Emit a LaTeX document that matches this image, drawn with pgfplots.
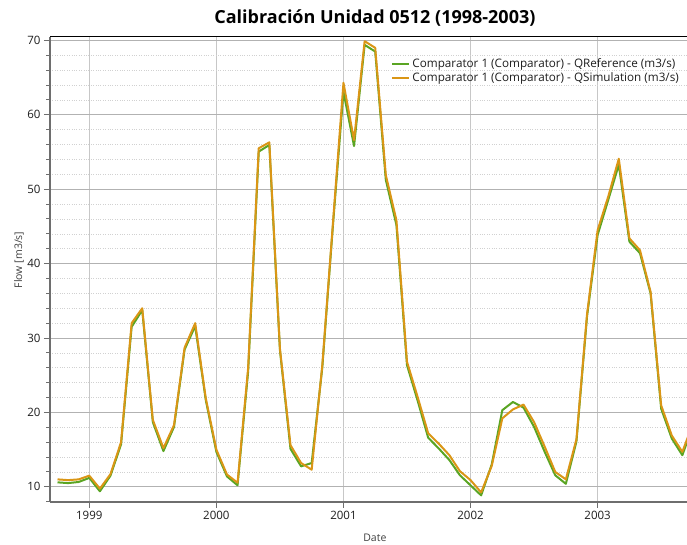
\documentclass[border=0pt]{standalone}
\usepackage{fontspec}
\setmainfont{Open Sans}
\usepackage{pgfplots}
\pgfplotsset{compat=1.18}
\definecolor{qref}{RGB}{90,165,35}
\definecolor{qsim}{RGB}{218,150,22}
\definecolor{axgray}{RGB}{110,110,110}
\definecolor{txt}{RGB}{30,30,30}
\begin{document}
\begin{tikzpicture}[x=1pt,y=1pt]
\useasboundingbox (0,0) rectangle (687,545);
\begin{axis}[
  at={(50pt,43.3pt)}, anchor=south west,
  scale only axis, width=637pt, height=465pt,
  xmin=-3.71, xmax=56.44, ymin=8, ymax=70.5,
  xtick={0,12,24,36,48}, xticklabels={1999,2000,2001,2002,2003},
  ytick={10,20,30,40,50,60,70},
  minor ytick={8,12,14,16,18,22,24,26,28,32,34,36,38,42,44,46,48,52,54,56,58,62,64,66,68},
  axis x line*=bottom, axis y line*=left,
  axis line style={-, draw=axgray, line width=2pt},
  tick align=outside, major tick length=6pt, minor tick length=4pt,
  tick style={axgray, line width=1pt},
  xmajorgrids, ymajorgrids, yminorgrids,
  major grid style={black!30, line width=0.8pt},
  minor grid style={black!18, dotted, line width=0.7pt},
  x grid style={black!22, line width=0.9pt},
  /pgf/number format/assume math mode=true,
  ticklabel style={font=\fontsize{11.5}{13}\selectfont, text=txt},
  xlabel={Date}, ylabel={Flow [m3/s]},
  xlabel style={at={(rel axis cs:0.51,0)}, anchor=center, yshift=-36pt, font=\fontsize{10.5}{12}\selectfont, text=txt!85},
  ylabel style={at={(rel axis cs:-0.0487,0.52)}, anchor=center, font=\fontsize{10.5}{12}\selectfont, text=txt!85},
  title={Calibración Unidad 0512 (1998-2003)},
  title style={at={(rel axis cs:0.51,1)}, anchor=center, yshift=13pt, font=\bfseries\fontsize{18}{20}\selectfont, text=black},
  legend style={at={(rel axis cs:0.531,0.961)}, anchor=north west, draw=none, fill=none,
    font=\fontsize{11.7}{13}\selectfont, text=txt, row sep=-1pt},
  legend cell align=left,
  legend image code/.code={\draw[#1] (0pt,0pt) -- (17pt,0pt);},
]
\addplot[qref, line width=2pt, line join=round] coordinates {
(-3,10.6) (-2,10.5) (-1,10.65) (0,11.2) (1,9.4) (2,11.5) (3,15.7) (4,31.5) (5,33.75) (6,18.7)
(7,14.8) (8,18.05) (9,28.45) (10,31.6) (11,21.65) (12,14.7) (13,11.4) (14,10.2) (15,25.5) (16,55.05)
(17,55.95) (18,28.4) (19,15.1) (20,12.75) (21,13.2) (22,26.0) (23,45.0) (24,63.1) (25,55.8) (26,69.4)
(27,68.5) (28,51.25) (29,45.2) (30,26.35) (31,21.6) (32,16.6) (33,15.15) (34,13.6) (35,11.55) (36,10.2)
(37,8.85) (38,13.0) (39,20.3) (40,21.4) (41,20.65) (42,18.05) (43,14.7) (44,11.55) (45,10.4) (46,16.1)
(47,32.9) (48,43.85) (49,48.55) (50,53.3) (51,42.95) (52,41.4) (53,36.0) (54,20.5) (55,16.5) (56,14.25)
(57,18.2)
};
\addlegendentry{Comparator 1 (Comparator) - QReference (m3/s)}
\addplot[qsim, line width=2pt, line join=round] coordinates {
(-3,11.0) (-2,10.9) (-1,11.0) (0,11.5) (1,9.75) (2,11.7) (3,16.0) (4,32.0) (5,34.0) (6,19.0)
(7,15.2) (8,18.3) (9,28.7) (10,32.0) (11,21.9) (12,15.0) (13,11.65) (14,10.55) (15,26.0) (16,55.5)
(17,56.3) (18,28.6) (19,15.6) (20,13.2) (21,12.3) (22,26.3) (23,45.3) (24,64.3) (25,56.6) (26,69.9)
(27,69.0) (28,51.9) (29,45.85) (30,26.8) (31,22.1) (32,17.2) (33,15.8) (34,14.25) (35,12.1) (36,10.9)
(37,9.25) (38,12.8) (39,19.2) (40,20.4) (41,21.05) (42,18.7) (43,15.4) (44,12.0) (45,11.0) (46,16.4)
(47,33.2) (48,44.5) (49,49.0) (50,54.1) (51,43.4) (52,41.8) (53,36.2) (54,20.95) (55,16.9) (56,14.7)
(57,18.5)
};
\addlegendentry{Comparator 1 (Comparator) - QSimulation (m3/s)}
\draw[black, line width=1.2pt] (rel axis cs:0,1) -- (rel axis cs:1,1);
\end{axis}
\end{tikzpicture}
\end{document}
